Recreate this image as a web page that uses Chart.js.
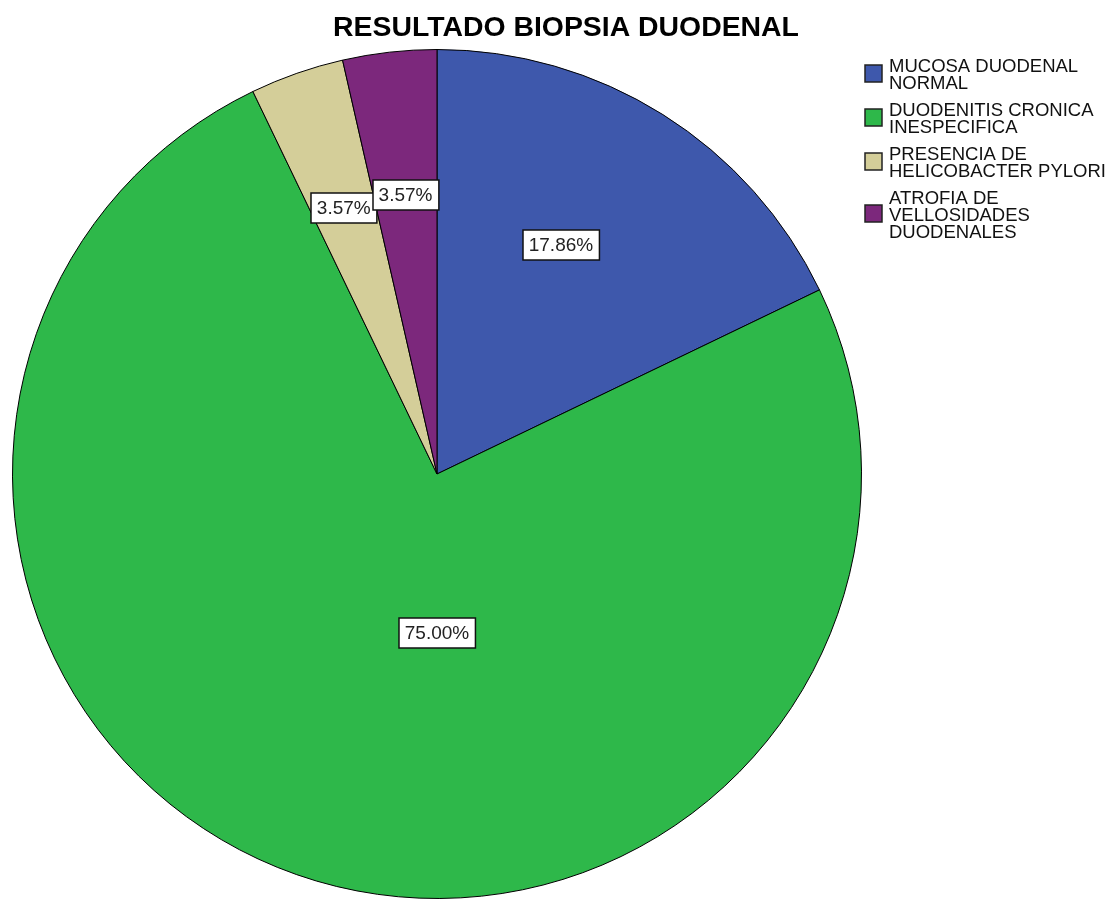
<!DOCTYPE html>
<html>
<head>
<meta charset="utf-8">
<title>Resultado biopsia duodenal</title>
<script src="https://cdn.jsdelivr.net/npm/chart.js@4.4.1/dist/chart.umd.min.js"></script>
<style>
  html, body { margin: 0; padding: 0; background: #fff; }
  #wrap { position: relative; width: 1110px; height: 899px; }
</style>
</head>
<body>
<div id="wrap"><canvas id="pie"></canvas></div>
<script>
const chartTitle = "RESULTADO BIOPSIA DUODENAL";

// legend text, one entry per slice, already broken into lines
const categories = [
  ["MUCOSA DUODENAL", "NORMAL"],
  ["DUODENITIS CRONICA", "INESPECIFICA"],
  ["PRESENCIA DE", "HELICOBACTER PYLORI"],
  ["ATROFIA DE", "VELLOSIDADES", "DUODENALES"],
];
const percentages = [17.86, 75.0, 3.57, 3.57];
const sliceColors = ["#3E58AC", "#2EB84A", "#D4CE99", "#7C287C"];

const FONT = '"Liberation Sans", Arial, sans-serif';

// title drawn over the pie + legend block
const titlePlugin = {
  id: "spssTitle",
  afterDraw(chart) {
    const { ctx } = chart;
    ctx.save();
    ctx.font = `bold 28.4px ${FONT}`;
    ctx.fillStyle = "#000";
    ctx.textAlign = "center";
    ctx.textBaseline = "alphabetic";
    ctx.fillText(chartTitle, 566, 36);
    ctx.restore();
  },
};

// legend with wrapped labels on the right
const sideLegend = {
  id: "sideLegend",
  afterDraw(chart, args, opts) {
    const { ctx } = chart;
    const lineH = opts.lineHeight;
    let baseline = opts.top;
    ctx.save();
    ctx.font = `18.5px ${FONT}`;
    ctx.textBaseline = "alphabetic";
    ctx.textAlign = "left";
    categories.forEach((lines, i) => {
      const blockTop = baseline - 13;
      const blockH = (lines.length - 1) * lineH + 13;
      const mid = blockTop + blockH / 2 - 1;
      const s = opts.box;
      ctx.fillStyle = sliceColors[i];
      ctx.fillRect(opts.x, Math.round(mid - s / 2), s, s);
      ctx.strokeStyle = "#222";
      ctx.lineWidth = 1.5;
      ctx.strokeRect(opts.x, Math.round(mid - s / 2), s, s);
      ctx.fillStyle = "#111";
      lines.forEach((t, j) => ctx.fillText(t, opts.textX, baseline + j * lineH));
      baseline += lines.length * lineH + opts.gap;
    });
    ctx.restore();
  },
};

// boxed percentage labels inside the slices
const sliceLabels = {
  id: "sliceLabels",
  afterDatasetsDraw(chart, args, opts) {
    const { ctx } = chart;
    const meta = chart.getDatasetMeta(0);
    ctx.save();
    ctx.font = `19px ${FONT}`;
    ctx.textAlign = "center";
    ctx.textBaseline = "middle";
    meta.data.forEach((arc, i) => {
      const { x, y, startAngle, endAngle, outerRadius } = arc.getProps(
        ["x", "y", "startAngle", "endAngle", "outerRadius"],
        true
      );
      const a = (startAngle + endAngle) / 2 + (opts.shift[i] * Math.PI) / 180;
      const r = outerRadius * opts.radius[i];
      const cx = x + Math.cos(a) * r;
      const cy = y + Math.sin(a) * r;
      const text = percentages[i].toFixed(2) + "%";
      const w = ctx.measureText(text).width + 12;
      const h = 30;
      ctx.fillStyle = "#fff";
      ctx.fillRect(Math.round(cx - w / 2), Math.round(cy - h / 2), w, h);
      ctx.strokeStyle = "#111";
      ctx.lineWidth = 1.5;
      ctx.strokeRect(Math.round(cx - w / 2), Math.round(cy - h / 2), w, h);
      ctx.fillStyle = "#222";
      ctx.fillText(text, cx, cy + 1);
    });
    ctx.restore();
  },
};

new Chart(document.getElementById("pie"), {
  type: "pie",
  data: {
    labels: categories,
    datasets: [
      {
        data: percentages,
        backgroundColor: sliceColors,
        borderColor: "#000",
        borderWidth: 1,
      },
    ],
  },
  options: {
    responsive: true,
    maintainAspectRatio: false,
    devicePixelRatio: 1,
    animation: false,
    layout: {
      padding: { left: 12, right: 248, top: 49, bottom: 0 },
    },
    plugins: {
      legend: { display: false },
      title: { display: false },
      tooltip: { enabled: false },
      sideLegend: { x: 865, textX: 889, top: 72, lineHeight: 17, gap: 10, box: 17 },
      sliceLabels: {
        radius: [0.613, 0.374, 0.665, 0.662],
        shift: [-3.7, -19.3, 0, 0],
      },
    },
  },
  plugins: [titlePlugin, sideLegend, sliceLabels],
});
</script>
</body>
</html>
